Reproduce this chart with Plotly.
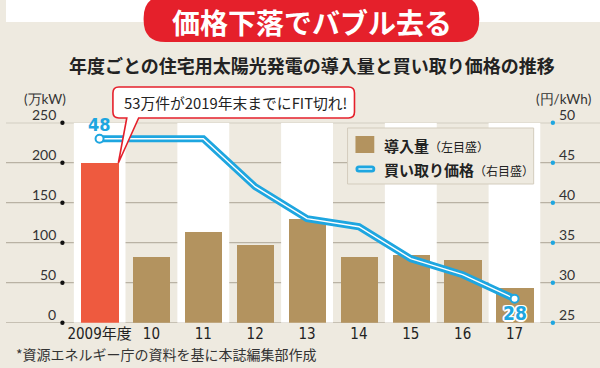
import plotly.graph_objects as go

# ---- data ----
categories = ["2009年度", "10", "11", "12", "13", "14", "15", "16", "17"]
installed = [200, 82, 114, 97, 130, 82, 85, 79, 44]          # 万kW (left axis)
prices = [48, 48, 48, 42, 38, 37, 33, 31, 28]                # 円/kWh (right axis)
left_ticks = [0, 50, 100, 150, 200, 250]
right_ticks = [25, 30, 35, 40, 45, 50]

W, H = 600, 368
JP = "Noto Sans CJK JP, Noto Sans, sans-serif"
NUM = "Lato, Noto Sans, sans-serif"
NARROW = "Liberation Sans Narrow, DejaVu Sans Condensed, Noto Sans CJK JP, sans-serif"
BEIGE = "#eeeae0"
TAN = "#b3935f"
RED_BAR = "#ee5a3f"
BLUE = "#1ea6e0"
RED = "#e5202b"
GRID = "#b9b2a4"

def px(x):
    return x / W

def py(y):
    return 1 - y / H

def rounded_path(x0, y0, x1, y1, r):
    pts = [
        f"M {px(x0 + r)} {py(y0)}",
        f"L {px(x1 - r)} {py(y0)}",
        f"Q {px(x1)} {py(y0)} {px(x1)} {py(y0 + r)}",
        f"L {px(x1)} {py(y1 - r)}",
        f"Q {px(x1)} {py(y1)} {px(x1 - r)} {py(y1)}",
        f"L {px(x0 + r)} {py(y1)}",
        f"Q {px(x0)} {py(y1)} {px(x0)} {py(y1 - r)}",
        f"L {px(x0)} {py(y0 + r)}",
        f"Q {px(x0)} {py(y0)} {px(x0 + r)} {py(y0)}",
        "Z",
    ]
    return " ".join(pts)

fig = go.Figure()

bar_colors = [RED_BAR] + [TAN] * (len(categories) - 1)
fig.add_trace(go.Bar(x=categories, y=installed, marker=dict(color=bar_colors, line=dict(width=0)),
                     width=0.72, yaxis="y", hoverinfo="skip"))
fig.add_trace(go.Scatter(x=categories, y=prices, yaxis="y2", mode="lines",
                         line=dict(color=BLUE, width=7), hoverinfo="skip"))
fig.add_trace(go.Scatter(x=categories, y=prices, yaxis="y2", mode="lines",
                         line=dict(color="white", width=1.4), hoverinfo="skip"))
fig.add_trace(go.Scatter(x=[categories[0], categories[-1]], y=[prices[0], prices[-1]], yaxis="y2",
                         mode="markers", marker=dict(color="white", size=8, line=dict(color=BLUE, width=2)),
                         hoverinfo="skip", cliponaxis=False))

shapes = []
# white top strip
shapes.append(dict(type="rect", xref="paper", yref="paper", x0=0, x1=1, y0=py(22), y1=1.01,
                   fillcolor="white", line=dict(width=0), layer="below"))
# white alternating columns
for i in range(0, len(categories), 2):
    shapes.append(dict(type="rect", xref="x", yref="y", x0=i - 0.5, x1=i + 0.5, y0=0, y1=250,
                       fillcolor="white", line=dict(width=0), layer="below"))
# gridlines across the full width
for t in left_ticks:
    shapes.append(dict(type="line", xref="paper", yref="y", x0=0, x1=1, y0=t, y1=t,
                       line=dict(color=GRID, width=1.3), layer="below"))
# tick dots
for t in left_ticks:
    yy = 322.7 - t * 0.8
    shapes.append(dict(type="circle", xref="paper", yref="paper",
                       x0=px(54.8), x1=px(59.2), y0=py(yy + 2.2), y1=py(yy - 2.2),
                       line=dict(width=0), fillcolor="#111"))
for t in right_ticks:
    yy = 322.7 - (t - 25) * 8
    shapes.append(dict(type="circle", xref="paper", yref="paper",
                       x0=px(550.2), x1=px(554.6), y0=py(yy + 2.2), y1=py(yy - 2.2),
                       line=dict(width=0), fillcolor=BLUE))
# title pill
shapes.append(dict(type="path", xref="paper", yref="paper", path=rounded_path(139, -4, 478, 42, 22),
                   fillcolor=RED, line=dict(width=0)))
# legend box
shapes.append(dict(type="rect", xref="paper", yref="paper", x0=px(345), x1=px(533), y0=py(184), y1=py(128),
                   fillcolor=BEIGE, line=dict(color="#d3ccbd", width=1)))
shapes.append(dict(type="rect", xref="paper", yref="paper", x0=px(353), x1=px(372), y0=py(153), y1=py(136),
                   fillcolor=TAN, line=dict(width=0)))
shapes.append(dict(type="path", xref="paper", yref="paper", path=rounded_path(353, 165.5, 373, 172.5, 3.5),
                   fillcolor=BLUE, line=dict(width=0)))
shapes.append(dict(type="line", xref="paper", yref="paper", x0=px(356), x1=px(370), y0=py(169), y1=py(169),
                   line=dict(color="white", width=1.3)))
# callout box with pointer
x0, y0, x1, y1, r = 108, 87, 352, 118, 6
callout = " ".join([
    f"M {px(x0 + r)} {py(y0)}",
    f"L {px(x1 - r)} {py(y0)}",
    f"Q {px(x1)} {py(y0)} {px(x1)} {py(y0 + r)}",
    f"L {px(x1)} {py(y1 - r)}",
    f"Q {px(x1)} {py(y1)} {px(x1 - r)} {py(y1)}",
    f"L {px(134)} {py(y1)}",
    f"L {px(113.5)} {py(163)}",
    f"L {px(122)} {py(y1)}",
    f"L {px(x0 + r)} {py(y1)}",
    f"Q {px(x0)} {py(y1)} {px(x0)} {py(y1 - r)}",
    f"L {px(x0)} {py(y0 + r)}",
    f"Q {px(x0)} {py(y0)} {px(x0 + r)} {py(y0)}",
    "Z",
])
shapes.append(dict(type="path", xref="paper", yref="paper", path=callout,
                   fillcolor="white", line=dict(color=RED, width=1.6)))

ann = []
def text(x, y, s, size, color="#222", family=JP, xanchor="center", yanchor="middle", **kw):
    ann.append(dict(x=px(x), y=py(y), xref="paper", yref="paper", text=s, showarrow=False,
                    xanchor=xanchor, yanchor=yanchor, font=dict(size=size, color=color, family=family), **kw))

text(309, 22, "<b>価格下落でバブル去る</b>", 28, "white")
text(309, 65, "<b>年度ごとの住宅用太陽光発電の導入量と買い取り価格の推移</b>", 18, "#222")
text(39, 99, "(万kW)", 13.5, "#333", family=NUM)
text(563, 99, "(円/kWh)", 13.5, "#333", family=NUM)
text(117, 102.5, "53万件が2019年末までにFIT切れ!", 14.8, "#222", xanchor="left")
text(380, 145, "<b>導入量</b><span style='font-size:12px'>（左目盛）</span>", 15, "#222", xanchor="left")
text(380, 169, "<b>買い取り価格</b><span style='font-size:12px'>（右目盛）</span>", 15, "#222", xanchor="left")
text(8, 354, "*資源エネルギー庁の資料を基に本誌編集部作成", 14, "#333", xanchor="left")

for t in left_ticks:
    ann.append(dict(x=px(53), y=t, xref="paper", yref="y", text=str(t), showarrow=False,
                    xanchor="right", yanchor="middle", yshift=8,
                    font=dict(size=14, color="#333", family=NUM)))
for t in right_ticks:
    ann.append(dict(x=px(557), y=t, xref="paper", yref="y2", text=str(t), showarrow=False,
                    xanchor="left", yanchor="middle", yshift=8,
                    font=dict(size=14, color="#333", family=NUM)))

first_i, last_i = 0, len(categories) - 1
ann.append(dict(x=first_i, y=prices[first_i], xref="x", yref="y2", text=f"<b>{prices[first_i]}</b>",
                showarrow=False, yshift=14, font=dict(size=18, color=BLUE, family=NARROW)))
outline = ", ".join(f"{dx}px {dy}px 0 white" for dx, dy in
                    [(-1.5, 0), (1.5, 0), (0, -1.5), (0, 1.5), (-1.2, -1.2), (1.2, 1.2), (-1.2, 1.2), (1.2, -1.2)])
ann.append(dict(x=last_i, y=prices[last_i], xref="x", yref="y2", text=f"<b>{prices[last_i]}</b>",
                showarrow=False, yshift=-14,
                font=dict(size=19, color=BLUE, family=NARROW, shadow=outline)))

fig.update_layout(
    width=W, height=H, autosize=False,
    margin=dict(l=0, r=0, t=0, b=0, pad=0),
    paper_bgcolor=BEIGE, plot_bgcolor=BEIGE,
    showlegend=False,
    shapes=shapes, annotations=ann,
    xaxis=dict(domain=[px(68.3), px(539.9)], range=[-0.5, len(categories) - 0.5], type="category",
               showgrid=False, zeroline=False, showline=False, ticks="",
               tickfont=dict(size=15, color="#222", family=NARROW), fixedrange=True),
    yaxis=dict(domain=[py(322.7), py(122.7)], range=[0, 250], showgrid=False, zeroline=False,
               showticklabels=False, showline=False, fixedrange=True),
    yaxis2=dict(domain=[py(322.7), py(122.7)], range=[25, 50], overlaying="y", side="right",
                showgrid=False, zeroline=False, showticklabels=False, showline=False, fixedrange=True),
    bargap=0,
)

fig.write_html("out.html", config={"displayModeBar": False},
               post_script="document.body.style.margin='0';document.body.style.padding='0';")
